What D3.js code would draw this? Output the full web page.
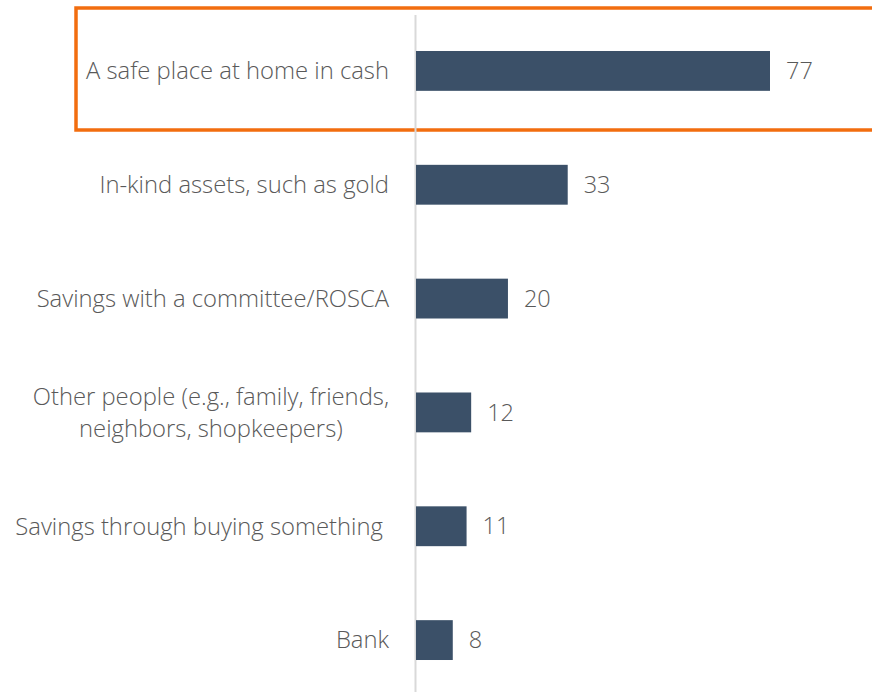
<!DOCTYPE html>
<html>
<head>
<meta charset="utf-8">
<script src="https://cdn.jsdelivr.net/npm/d3@7"></script>
<style>
  body { margin: 0; background: #fff; }
  svg { display: block; font-family: "Open Sans", sans-serif; font-weight: 300; }
</style>
</head>
<body>
<div id="chart"></div>
<script>
// categories and values (percent)
var categories = [
    ["A safe place at home in cash"],
    ["In-kind assets, such as gold"],
    ["Savings with a committee/ROSCA"],
    ["Other people (e.g., family, friends,", "neighbors, shopkeepers)"],
    ["Savings through buying something "],
    ["Bank"]
];
var values = [77, 33, 20, 12, 11, 8];

var width = 872,
    height = 692;

var svg = d3.select("#chart").append("svg")
    .attr("width", width)
    .attr("height", height);

var x = d3.scaleLinear()
    .domain([0, 77])
    .range([416, 770]);

var y = d3.scaleBand()
    .domain(d3.range(values.length))
    .range([14, 697])
    .paddingInner(0.65)
    .paddingOuter(0.325);

// highlight box around first row
svg.append("rect")
    .attr("x", 76)
    .attr("y", 8)
    .attr("width", 820)
    .attr("height", 122)
    .attr("fill", "none")
    .attr("stroke", "#f26d0f")
    .attr("stroke-width", 3.5);

// vertical axis line
svg.append("line")
    .attr("x1", 415.5).attr("x2", 415.5)
    .attr("y1", 15).attr("y2", height)
    .attr("stroke", "#d9d9d9")
    .attr("stroke-width", 2);

svg.selectAll("rect.bar")
    .data(values)
    .enter().append("rect")
    .attr("class", "bar")
    .attr("x", x(0))
    .attr("y", function(d, i) { return y(i); })
    .attr("width", function(d) { return x(d) - x(0); })
    .attr("height", y.bandwidth())
    .attr("fill", "#3b5068");

svg.selectAll("text.val")
    .data(values)
    .enter().append("text")
    .attr("class", "val")
    .attr("x", function(d) { return x(d) + 16; })
    .attr("y", function(d, i) { return y(i) + y.bandwidth() / 2; })
    .attr("dy", "0.35em")
    .attr("fill", "#595959")
    .attr("font-size", 23.5)
    .text(function(d) { return d; });

// category labels: block right-aligned, lines centred within block
var labelRight = 389;
categories.forEach(function(lines, i) {
    var g = svg.append("g");
    var cy = y(i) + y.bandwidth() / 2;
    var lh = 32;
    var texts = lines.map(function(line, j) {
        return g.append("text")
            .attr("y", cy + (j - (lines.length - 1) / 2) * lh)
            .attr("dy", "0.35em")
            .attr("fill", "#595959")
            .attr("font-size", 23.8)
            .attr("text-anchor", "middle")
            .style("white-space", "pre")
            .text(line);
    });
    var maxW = d3.max(texts, function(t) { return t.node().getComputedTextLength(); });
    texts.forEach(function(t) { t.attr("x", labelRight - maxW / 2); });
});
</script>
</body>
</html>
